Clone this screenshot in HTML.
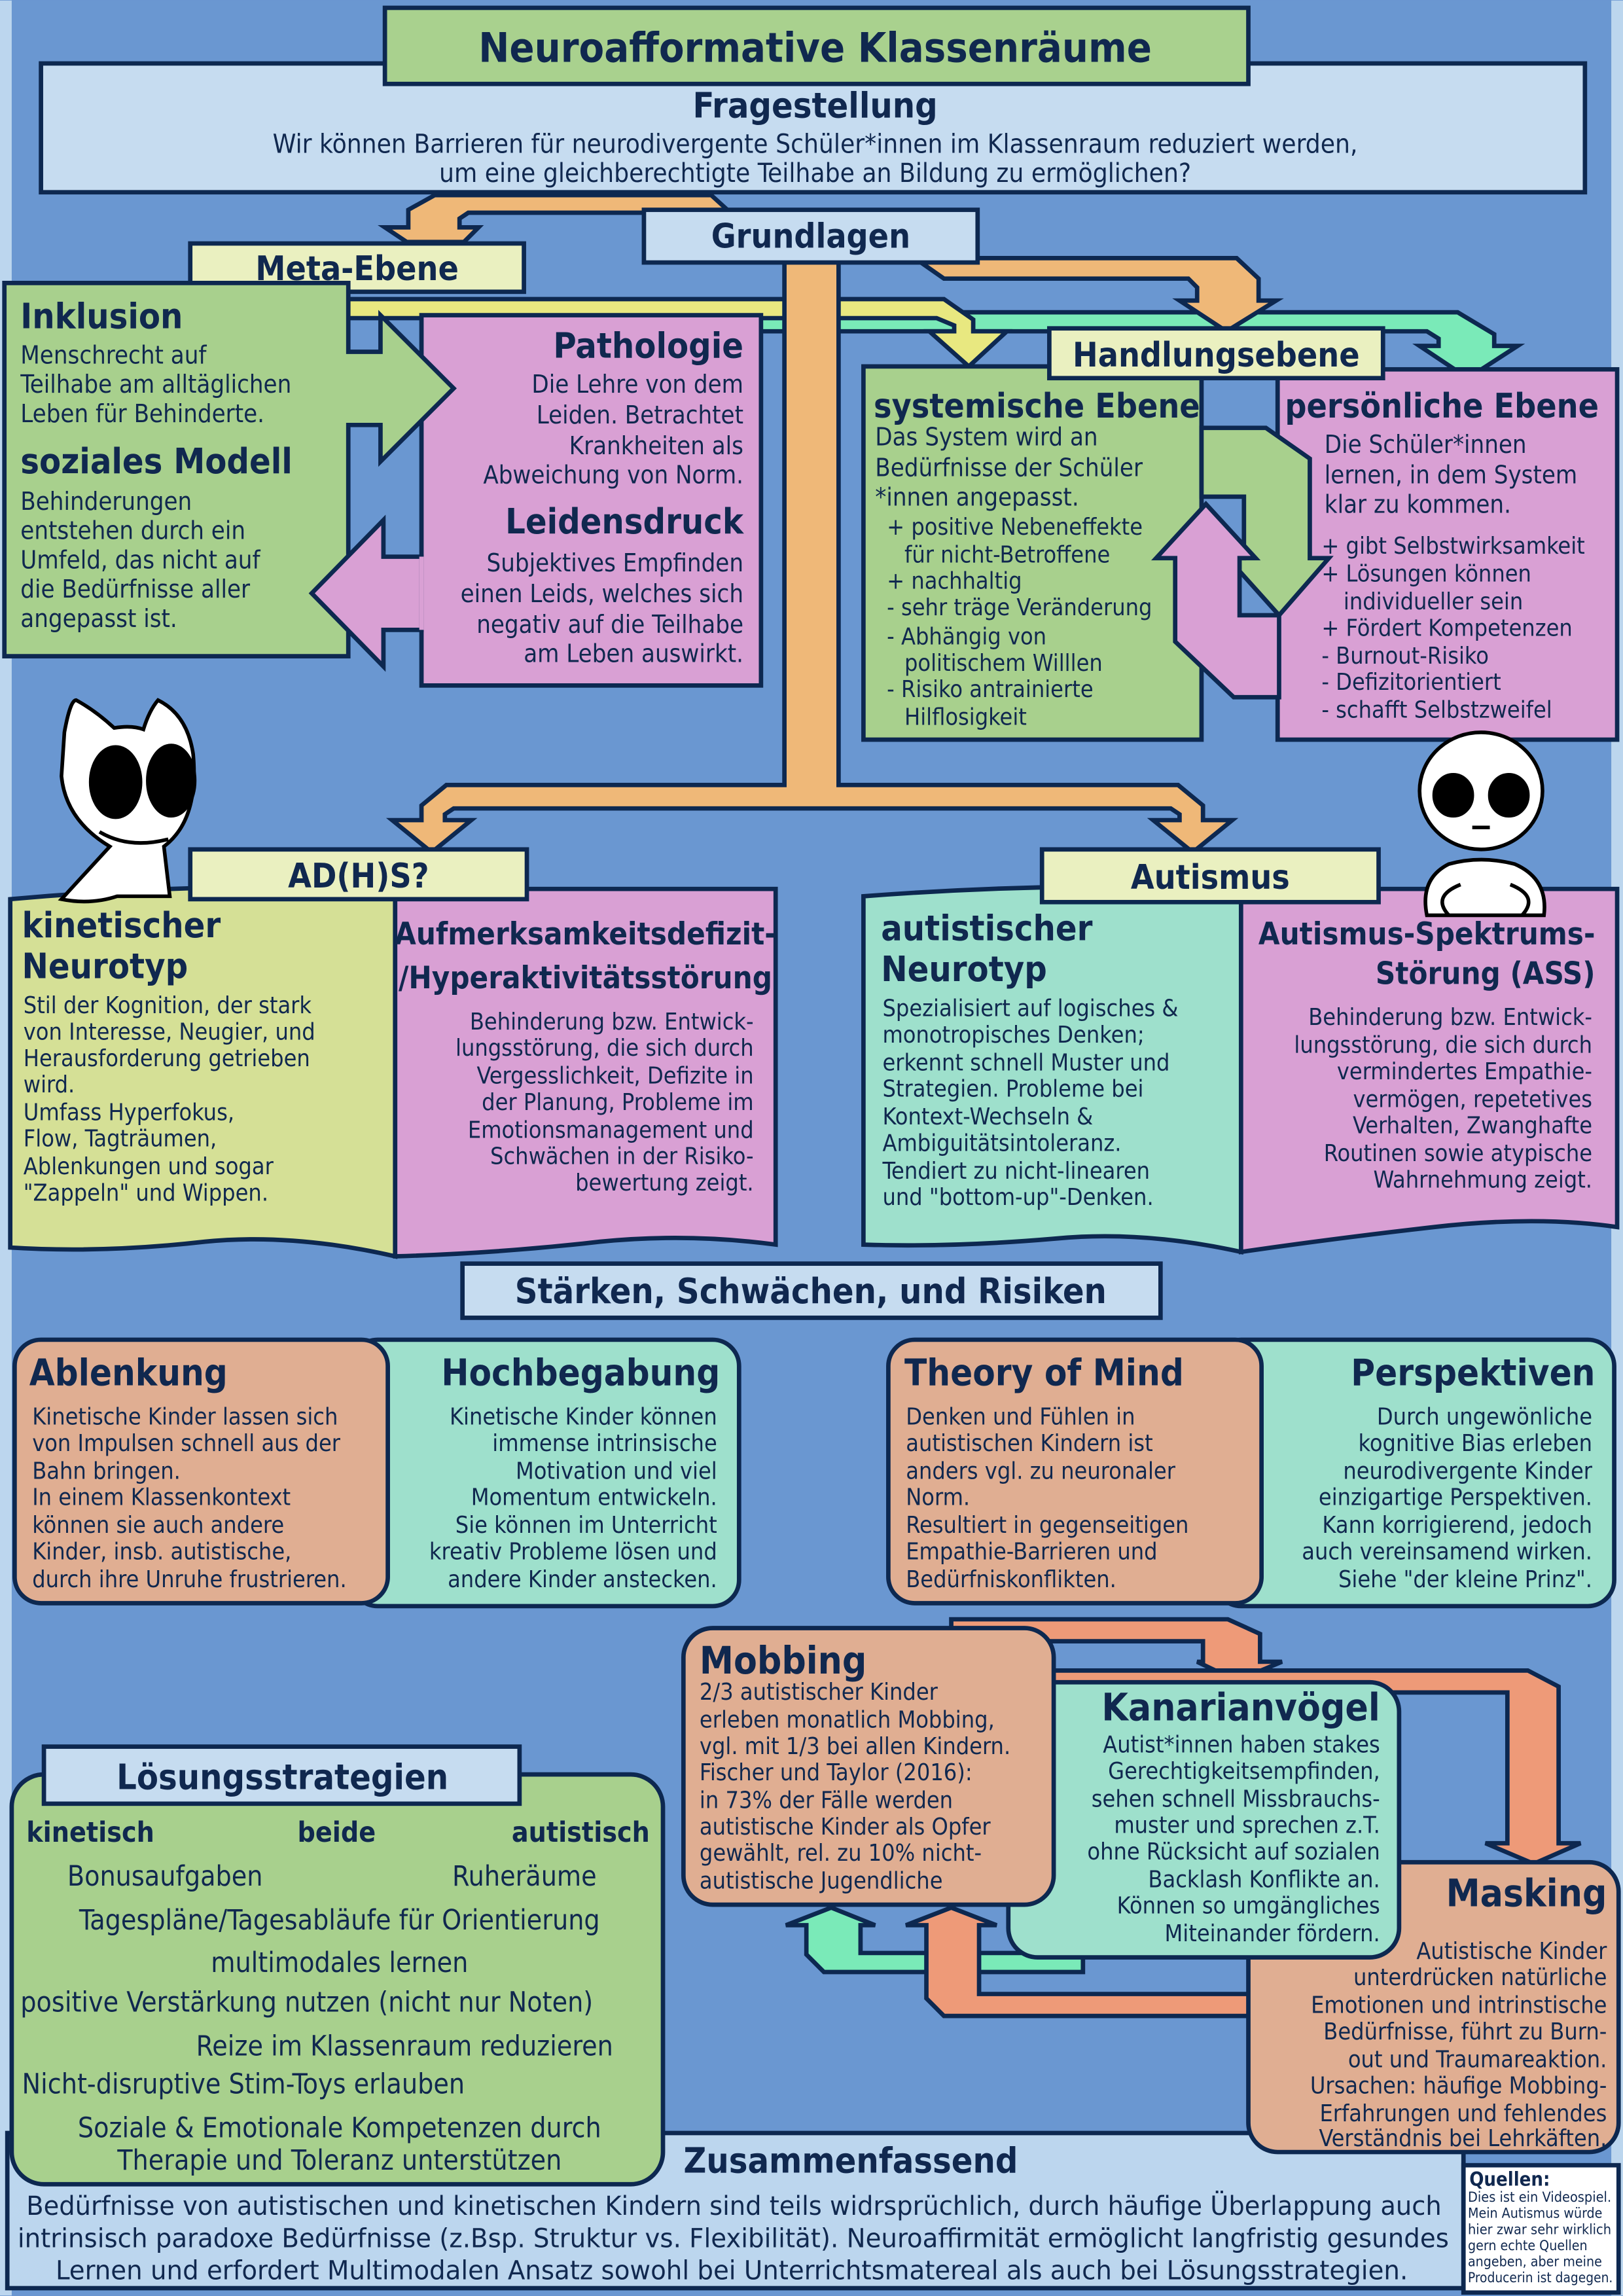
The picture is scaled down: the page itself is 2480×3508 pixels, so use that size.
<!DOCTYPE html>
<html><head><meta charset="utf-8">
<style>
html,body{margin:0;padding:0;background:#6a97d1;}
svg{display:block;}
text{font-family:"DejaVu Sans Condensed","Liberation Sans",sans-serif;fill:#10284f;}
.b{font-weight:bold;}
.r{text-anchor:end;}
.c{text-anchor:middle;}
</style></head><body>
<svg xmlns="http://www.w3.org/2000/svg" width="2480" height="3508" viewBox="0 0 1109 1568">
<rect x="0" y="0" width="1109" height="1568" fill="#6a97d1"/>
<rect x="0" y="0" width="8" height="1568" fill="#bcd6ee"/>
<rect x="1101" y="0" width="8" height="1568" fill="#bcd6ee"/>
<g stroke="#0d2850" stroke-width="3" stroke-linejoin="miter">
<!-- header -->
<polygon points="300,133 486,133 497,143 497,145 320,145 314,149 314,155 327,155 317,165 278,165 263,155 279,155 279,143 297,133" fill="#efb878"/>
<rect x="28" y="43" width="1055" height="88" fill="#c6dcf0"/>
<rect x="263" y="5" width="590" height="52" fill="#a9d18e"/>
<!-- yellow + mint bars -->
<polygon points="480,213 996,213 1021,228 1021,236 1037,236 1003,258 970,236 983,236 983,231 975,226 480,226" fill="#7aeab8"/>
<polygon points="235,204 645,204 665,218 665,226 688,226 662,250 635,226 652,226 652,222 640,217 235,217" fill="#e8e880"/>
<!-- orange to Handlungsebene -->
<polygon points="625,176 845,176 860,190 860,205 872,205 838,226 806,205 818,205 818,196 812,190 645,190" fill="#efb878"/>
<!-- orange stem -->
<polygon points="536,178 573,178 573,536 805,536 822,550 822,560 842,560 815,582 788,560 806,560 806,556 800,552 310,552 304,556 304,560 322,560 295,582 268,560 288,560 288,550 305,536 536,536" fill="#efb878"/>
<rect x="440" y="143" width="228" height="36" fill="#c6dcf0"/>
<rect x="130" y="166" width="228" height="33" fill="#eaf0c0"/>
<!-- Inklusion / Pathologie -->
<rect x="288" y="215" width="232" height="253" fill="#d9a0d4"/>
<polygon points="3,193 238,193 238,240 260,240 260,215 310,265 260,315 260,290 238,290 238,448 3,448" fill="#a8d08d"/>
<polygon points="288,380 262,380 262,355 213,405 262,455 262,430 288,430" fill="#d9a0d4"/>
<line x1="288" y1="380" x2="288" y2="430" stroke="#d9a0d4" stroke-width="3"/>
<!-- Handlungsebene -->
<rect x="590" y="250" width="231" height="255" fill="#a8d08d"/>
<rect x="873" y="252" width="232" height="253" fill="#d9a0d4"/>
<polygon points="821,292 865,292 895,313 895,381 908,381 874,420 839,381 850,381 850,339 821,339" fill="#a8d08d"/>
<polygon points="874,420 847,420 847,381 858,381 824,344 790,381 803,381 803,438 843,476 874,476" fill="#d9a0d4"/>
<rect x="717" y="224" width="228" height="34" fill="#eaf0c0"/>
<!-- ADHS -->
<path d="M7,614 Q140,602 270,607 L270,858 Q200,842 140,848 Q70,856 7,852 Z" fill="#d5e096"/>
<path d="M270,607 L530,607 L530,850 Q470,842 410,848 Q340,856 270,858 Z" fill="#d9a0d4"/>
<rect x="130" y="580" width="230" height="34" fill="#eaf0c0"/>
<!-- Autismus -->
<path d="M590,612 Q720,602 848,607 L848,855 Q780,840 720,846 Q650,852 590,850 Z" fill="#9ee0cc"/>
<path d="M848,607 L1105,607 L1105,838 Q1050,830 980,838 Q910,846 848,855 Z" fill="#d9a0d4"/>
<rect x="712" y="580" width="230" height="36" fill="#eaf0c0"/>
<!-- Staerken -->
<rect x="316" y="863" width="477" height="37" fill="#c6dcf0"/>
<rect x="240" y="915" width="265" height="182" rx="18" fill="#9ee0cc"/>
<rect x="10" y="915" width="255" height="180" rx="18" fill="#e0ae92"/>
<rect x="830" y="915" width="273" height="182" rx="18" fill="#9ee0cc"/>
<rect x="607" y="915" width="255" height="180" rx="18" fill="#e0ae92"/>
<!-- Mobbing cluster -->
<polygon points="650,1106 839,1106 861,1116 861,1135 876,1135 845,1148 818,1135 822,1135 822,1121 650,1121" fill="#ee9a78"/>
<polygon points="700,1141 1044,1141 1065,1152 1065,1259 1080,1259 1048,1273 1015,1259 1030,1259 1030,1156 700,1156" fill="#ee9a78"/>
<polygon points="740,1334 588,1334 588,1315 598,1315 568,1303 537,1315 551,1315 551,1335 563,1347 740,1347" fill="#7aeab8"/>
<polygon points="860,1362 669,1362 669,1315 681,1315 650,1303 619,1315 633,1315 633,1365 645,1377 860,1377" fill="#ee9a78"/>
<!-- Zusammenfassend -->
<rect x="5" y="1457" width="995" height="106" fill="#bcd6ee"/>
<rect x="853" y="1272" width="253" height="198" rx="20" fill="#e0ae92"/>
<rect x="689" y="1149" width="267" height="188" rx="20" fill="#9ee0cc"/>
<rect x="467" y="1112" width="253" height="189" rx="20" fill="#e0ae92"/>
<!-- Loesung -->
<rect x="8" y="1212" width="445" height="280" rx="22" fill="#a8d08d"/>
<rect x="30" y="1193" width="325" height="39" fill="#c6dcf0"/>
<rect x="1000" y="1479" width="106" height="87" fill="#ffffff"/>
</g>

<!-- characters -->
<g stroke="#000" stroke-width="2.5" fill="#fff">
<path d="M44,500 Q48,478 52,478 Q65,485 78,497 Q90,495 98,498 Q102,485 108,478 Q128,488 132,515 Q136,560 112,578 L116,612 L80,612 Q62,618 42,614 L75,578 Q45,560 42,530 Z"/>
<ellipse cx="79" cy="534" rx="17" ry="24" fill="#000"/>
<ellipse cx="117" cy="533" rx="16" ry="24" fill="#000"/>
<path d="M68,568 Q88,580 115,573" fill="none"/>
<path d="M975,625 Q970,600 990,590 Q1012,584 1035,590 Q1058,600 1055,625 Z"/>
<path d="M990,625 Q978,612 998,604" fill="none"/>
<path d="M1040,625 Q1052,612 1032,604" fill="none"/>
<ellipse cx="1012" cy="540" rx="42" ry="40"/>
<ellipse cx="993" cy="543" rx="13" ry="14" fill="#000"/>
<ellipse cx="1031" cy="543" rx="13" ry="14" fill="#000"/>
<line x1="1006" y1="565" x2="1018" y2="565"/>
</g>

<!-- texts -->
<text x="557" y="42" class="b c" font-size="28">Neuroafformative Klassenräume</text>
<text x="557" y="80" class="b c" font-size="24">Fragestellung</text>
<text x="557" y="104" class="c" font-size="18">Wir können Barrieren für neurodivergente Schüler*innen im Klassenraum reduziert werden,</text>
<text x="557" y="124" class="c" font-size="18">um eine gleichberechtigte Teilhabe an Bildung zu ermöglichen?</text>
<text x="554" y="169" class="b c" font-size="23">Grundlagen</text>
<text x="244" y="191" class="b c" font-size="23">Meta-Ebene</text>
<text x="831" y="250" class="b c" font-size="23">Handlungsebene</text>

<text x="14" y="224" class="b" font-size="24">Inklusion</text>
<g font-size="17"><text x="14" y="248">Menschrecht auf</text><text x="14" y="268">Teilhabe am alltäglichen</text><text x="14" y="288">Leben für Behinderte.</text></g>
<text x="14" y="323" class="b" font-size="24">soziales Modell</text>
<g font-size="17"><text x="14" y="348">Behinderungen</text><text x="14" y="368">entstehen durch ein</text><text x="14" y="388">Umfeld, das nicht auf</text><text x="14" y="408">die Bedürfnisse aller</text><text x="14" y="428">angepasst ist.</text></g>

<text x="508" y="244" class="b r" font-size="24">Pathologie</text>
<g font-size="17" class="r"><text x="508" y="268" class="r">Die Lehre von dem</text><text x="508" y="289" class="r">Leiden. Betrachtet</text><text x="508" y="310" class="r">Krankheiten als</text><text x="508" y="330" class="r">Abweichung von Norm.</text></g>
<text x="508" y="364" class="b r" font-size="24">Leidensdruck</text>
<g font-size="17"><text x="508" y="390" class="r">Subjektives Empfinden</text><text x="508" y="411" class="r">einen Leids, welches sich</text><text x="508" y="432" class="r">negativ auf die Teilhabe</text><text x="508" y="452" class="r">am Leben auswirkt.</text></g>

<text x="597" y="285" class="b" font-size="23">systemische Ebene</text>
<g font-size="17"><text x="598" y="304">Das System wird an</text><text x="598" y="325">Bedürfnisse der Schüler</text><text x="598" y="345">*innen angepasst.</text></g>
<g font-size="16"><text x="606" y="365">+ positive Nebeneffekte</text><text x="618" y="384">für nicht-Betroffene</text><text x="606" y="402">+ nachhaltig</text><text x="606" y="420">- sehr träge Veränderung</text><text x="606" y="440">- Abhängig von</text><text x="618" y="458">politischem Willlen</text><text x="606" y="476">- Risiko antrainierte</text><text x="618" y="495">Hilflosigkeit</text></g>

<text x="878" y="285" class="b" font-size="23">persönliche Ebene</text>
<g font-size="17"><text x="905" y="309">Die Schüler*innen</text><text x="905" y="330">lernen, in dem System</text><text x="905" y="350">klar zu kommen.</text></g>
<g font-size="16"><text x="903" y="378">+ gibt Selbstwirksamkeit</text><text x="903" y="397">+ Lösungen können</text><text x="918" y="416">individueller sein</text><text x="903" y="434">+ Fördert Kompetenzen</text><text x="903" y="453">- Burnout-Risiko</text><text x="903" y="471">- Defizitorientiert</text><text x="903" y="490">- schafft Selbstzweifel</text></g>

<text x="245" y="606" class="b c" font-size="23">AD(H)S?</text>
<text x="827" y="607" class="b c" font-size="23">Autismus</text>

<text x="15" y="640" class="b" font-size="24">kinetischer</text>
<text x="15" y="668" class="b" font-size="24">Neurotyp</text>
<g font-size="16"><text x="16" y="692">Stil der Kognition, der stark</text><text x="16" y="710">von Interesse, Neugier, und</text><text x="16" y="728">Herausforderung getrieben</text><text x="16" y="746">wird.</text><text x="16" y="765">Umfass Hyperfokus,</text><text x="16" y="783">Flow, Tagträumen,</text><text x="16" y="802">Ablenkungen und sogar</text><text x="16" y="820">"Zappeln" und Wippen.</text></g>

<text x="400" y="645" class="b c" font-size="21">Aufmerksamkeitsdefizit-</text>
<text x="400" y="675" class="b c" font-size="21">/Hyperaktivitätsstörung</text>
<g font-size="16"><text x="515" y="703" class="r">Behinderung bzw. Entwick-</text><text x="515" y="721" class="r">lungsstörung, die sich durch</text><text x="515" y="740" class="r">Vergesslichkeit, Defizite in</text><text x="515" y="758" class="r">der Planung, Probleme im</text><text x="515" y="777" class="r">Emotionsmanagement und</text><text x="515" y="795" class="r">Schwächen in der Risiko-</text><text x="515" y="813" class="r">bewertung zeigt.</text></g>

<text x="602" y="642" class="b" font-size="24">autistischer</text>
<text x="602" y="670" class="b" font-size="24">Neurotyp</text>
<g font-size="16"><text x="603" y="694">Spezialisiert auf logisches &amp;</text><text x="603" y="712">monotropisches Denken;</text><text x="603" y="731">erkennt schnell Muster und</text><text x="603" y="749">Strategien. Probleme bei</text><text x="603" y="768">Kontext-Wechseln &amp;</text><text x="603" y="786">Ambiguitätsintoleranz.</text><text x="603" y="805">Tendiert zu nicht-linearen</text><text x="603" y="823">und "bottom-up"-Denken.</text></g>

<text x="1090" y="645" class="b r" font-size="21">Autismus-Spektrums-</text>
<text x="1090" y="672" class="b r" font-size="21">Störung (ASS)</text>
<g font-size="16"><text x="1088" y="700" class="r">Behinderung bzw. Entwick-</text><text x="1088" y="719" class="r">lungsstörung, die sich durch</text><text x="1088" y="737" class="r">vermindertes Empathie-</text><text x="1088" y="756" class="r">vermögen, repetetives</text><text x="1088" y="774" class="r">Verhalten, Zwanghafte</text><text x="1088" y="793" class="r">Routinen sowie atypische</text><text x="1088" y="811" class="r">Wahrnehmung zeigt.</text></g>

<text x="554" y="890" class="b c" font-size="24">Stärken, Schwächen, und Risiken</text>

<text x="20" y="946" class="b" font-size="25">Ablenkung</text>
<g font-size="16"><text x="22" y="973">Kinetische Kinder lassen sich</text><text x="22" y="991">von Impulsen schnell aus der</text><text x="22" y="1010">Bahn bringen.</text><text x="22" y="1028">In einem Klassenkontext</text><text x="22" y="1047">können sie auch andere</text><text x="22" y="1065">Kinder, insb. autistische,</text><text x="22" y="1084">durch ihre Unruhe frustrieren.</text></g>
<text x="492" y="946" class="b r" font-size="25">Hochbegabung</text>
<g font-size="16"><text x="490" y="973" class="r">Kinetische Kinder können</text><text x="490" y="991" class="r">immense intrinsische</text><text x="490" y="1010" class="r">Motivation und viel</text><text x="490" y="1028" class="r">Momentum entwickeln.</text><text x="490" y="1047" class="r">Sie können im Unterricht</text><text x="490" y="1065" class="r">kreativ Probleme lösen und</text><text x="490" y="1084" class="r">andere Kinder anstecken.</text></g>

<text x="618" y="946" class="b" font-size="25">Theory of Mind</text>
<g font-size="16"><text x="619" y="973">Denken und Fühlen in</text><text x="619" y="991">autistischen Kindern ist</text><text x="619" y="1010">anders vgl. zu neuronaler</text><text x="619" y="1028">Norm.</text><text x="619" y="1047">Resultiert in gegenseitigen</text><text x="619" y="1065">Empathie-Barrieren und</text><text x="619" y="1084">Bedürfniskonflikten.</text></g>
<text x="1090" y="946" class="b r" font-size="25">Perspektiven</text>
<g font-size="16"><text x="1088" y="973" class="r">Durch ungewönliche</text><text x="1088" y="991" class="r">kognitive Bias erleben</text><text x="1088" y="1010" class="r">neurodivergente Kinder</text><text x="1088" y="1028" class="r">einzigartige Perspektiven.</text><text x="1088" y="1047" class="r">Kann korrigierend, jedoch</text><text x="1088" y="1065" class="r">auch vereinsamend wirken.</text><text x="1088" y="1084" class="r">Siehe "der kleine Prinz".</text></g>

<text x="478" y="1143" class="b" font-size="26">Mobbing</text>
<g font-size="16"><text x="478" y="1161">2/3 autistischer Kinder</text><text x="478" y="1180">erleben monatlich Mobbing,</text><text x="478" y="1198">vgl. mit 1/3 bei allen Kindern.</text><text x="478" y="1216">Fischer und Taylor (2016):</text><text x="478" y="1235">in 73% der Fälle werden</text><text x="478" y="1253">autistische Kinder als Opfer</text><text x="478" y="1271">gewählt, rel. zu 10% nicht-</text><text x="478" y="1290">autistische Jugendliche</text></g>

<text x="943" y="1175" class="b r" font-size="26">Kanarianvögel</text>
<g font-size="16"><text x="943" y="1197" class="r">Autist*innen haben stakes</text><text x="943" y="1215" class="r">Gerechtigkeitsempfinden,</text><text x="943" y="1234" class="r">sehen schnell Missbrauchs-</text><text x="943" y="1252" class="r">muster und sprechen z.T.</text><text x="943" y="1270" class="r">ohne Rücksicht auf sozialen</text><text x="943" y="1289" class="r">Backlash Konflikte an.</text><text x="943" y="1307" class="r">Können so umgängliches</text><text x="943" y="1326" class="r">Miteinander fördern.</text></g>

<text x="1098" y="1302" class="b r" font-size="26">Masking</text>
<g font-size="16"><text x="1098" y="1338" class="r">Autistische Kinder</text><text x="1098" y="1356" class="r">unterdrücken natürliche</text><text x="1098" y="1375" class="r">Emotionen und intrinstische</text><text x="1098" y="1393" class="r">Bedürfnisse, führt zu Burn-</text><text x="1098" y="1412" class="r">out und Traumareaktion.</text><text x="1098" y="1430" class="r">Ursachen: häufige Mobbing-</text><text x="1098" y="1449" class="r">Erfahrungen und fehlendes</text><text x="1098" y="1466" class="r">Verständnis bei Lehrkäften.</text></g>

<text x="193" y="1222" class="b c" font-size="24">Lösungsstrategien</text>
<g font-size="19">
<text x="18" y="1258" class="b">kinetisch</text><text x="230" y="1258" class="b c">beide</text><text x="444" y="1258" class="b r">autistisch</text>
<text x="46" y="1288">Bonusaufgaben</text><text x="309" y="1288">Ruheräume</text>
<text x="232" y="1318" class="c">Tagespläne/Tagesabläufe für Orientierung</text>
<text x="232" y="1347" class="c">multimodales lernen</text>
<text x="14" y="1374">positive Verstärkung nutzen (nicht nur Noten)</text>
<text x="134" y="1404">Reize im Klassenraum reduzieren</text>
<text x="15" y="1430">Nicht-disruptive Stim-Toys erlauben</text>
<text x="232" y="1460" class="c">Soziale &amp; Emotionale Kompetenzen durch</text>
<text x="232" y="1482" class="c">Therapie und Toleranz unterstützen</text>
</g>

<text x="467" y="1484" class="b" font-size="24">Zusammenfassend</text>
<g font-size="18">
<text x="18" y="1513" textLength="967" lengthAdjust="spacingAndGlyphs">Bedürfnisse von autistischen und kinetischen Kindern sind teils widrsprüchlich, durch häufige Überlappung auch</text>
<text x="12" y="1535" textLength="978" lengthAdjust="spacingAndGlyphs">intrinsisch paradoxe Bedürfnisse (z.Bsp. Struktur vs. Flexibilität). Neuroaffirmität ermöglicht langfristig gesundes</text>
<text x="38" y="1557" textLength="924" lengthAdjust="spacingAndGlyphs">Lernen und erfordert Multimodalen Ansatz sowohl bei Unterrichtsmatereal als auch bei Lösungsstrategien.</text>
</g>
<text x="1004" y="1493" class="b" font-size="13">Quellen:</text>
<g font-size="9.5"><text x="1003" y="1504" textLength="98" lengthAdjust="spacingAndGlyphs">Dies ist ein Videospiel.</text><text x="1003" y="1515">Mein Autismus würde</text><text x="1003" y="1526" textLength="98" lengthAdjust="spacingAndGlyphs">hier zwar sehr wirklich</text><text x="1003" y="1537">gern echte Quellen</text><text x="1003" y="1548">angeben, aber meine</text><text x="1003" y="1559" textLength="99" lengthAdjust="spacingAndGlyphs">Producerin ist dagegen.</text></g>
</svg>
</body></html>
